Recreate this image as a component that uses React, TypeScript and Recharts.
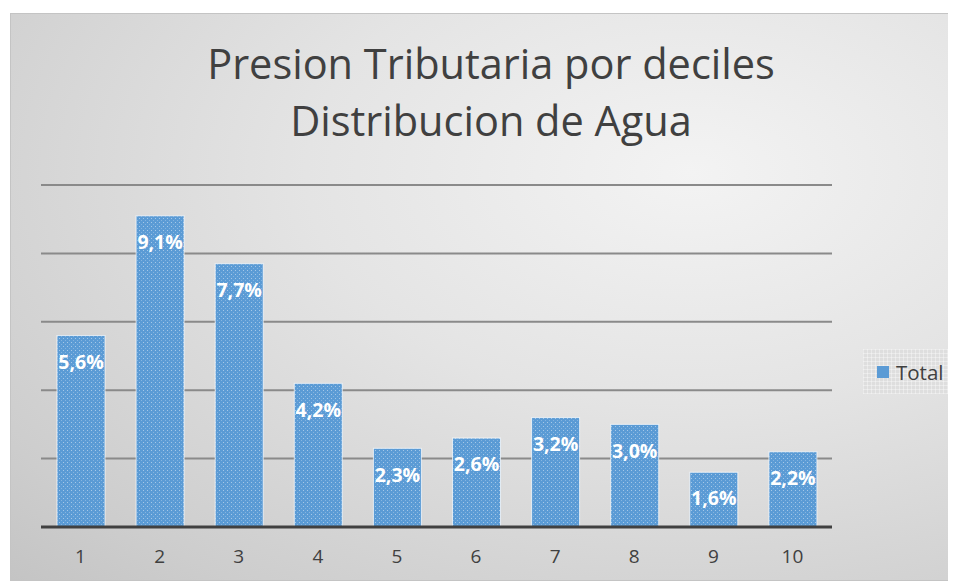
import { Bar, BarChart, CartesianGrid, LabelList, XAxis, YAxis } from "recharts";

// Presión tributaria por deciles — distribución de agua (% del ingreso)
const deciles = ["1", "2", "3", "4", "5", "6", "7", "8", "9", "10"];
const total = [5.6, 9.1, 7.7, 4.2, 2.3, 2.6, 3.2, 3.0, 1.6, 2.2];
const yTicks = [0, 2, 4, 6, 8, 10];
const titleLines = ["Presion Tributaria por deciles", "Distribucion de Agua"];
const seriesName = "Total";

const data = deciles.map((d, i) => ({ decil: d, total: total[i] }));

const FONT = "'Open Sans', 'Noto Sans', sans-serif";
const BLUE = "#5b9bd5";
const fmtPct = (v: number) => `${v.toFixed(1).replace(".", ",")}%`;

function DottedBar(props: any) {
  const { x, y, width, height } = props;
  if (!height || height <= 0) return null;
  return (
    <g>
      <rect x={x} y={y} width={width} height={height} fill={BLUE} stroke="rgba(255,255,255,0.7)" strokeWidth={1} />
      <rect x={x} y={y} width={width} height={height} fill="url(#dots)" />
    </g>
  );
}

function InsideTopLabel(props: any) {
  const { x, y, width, value } = props;
  return (
    <text
      x={x + width / 2}
      y={y + 28}
      textAnchor="middle"
      dominantBaseline="middle"
      fill="#fff"
      fontFamily={FONT}
      fontWeight={700}
      fontSize={19.5}
    >
      {fmtPct(Number(value))}
    </text>
  );
}

export default function App() {
  return (
    <div
      style={{
        position: "relative",
        marginLeft: 2,
        marginTop: 5,
        width: 946,
        height: 568,
        border: "1px solid #c4c4c4",
        boxSizing: "border-box",
        background: "radial-gradient(ellipse at 72% 28%, #f3f3f3 0%, #e4e4e4 40%, #cdcdcd 85%, #c4c4c4 100%)",
        fontFamily: FONT,
      }}
    >
      <svg width={0} height={0} style={{ position: "absolute" }}>
        <defs>
          <pattern id="dots" width={4} height={4} patternUnits="userSpaceOnUse">
            <rect x={0} y={0} width={1} height={1} fill="rgba(255,255,255,0.45)" />
            <rect x={2} y={2} width={1} height={1} fill="rgba(255,255,255,0.25)" />
          </pattern>
        </defs>
      </svg>

      <div
        style={{
          position: "absolute",
          left: 0,
          width: 960,
          top: 21,
          textAlign: "center",
          color: "#404040",
          fontSize: 41.5,
          lineHeight: "57px",
        }}
      >
        {titleLines.map((t) => (
          <div key={t}>{t}</div>
        ))}
      </div>

      <BarChart
        width={944}
        height={566}
        data={data}
        margin={{ top: 171, right: 123, bottom: 20, left: 30 }}
      >
        <CartesianGrid horizontal vertical={false} stroke="#8a8a8a" strokeWidth={2} />
        <YAxis hide domain={[0, 10]} ticks={yTicks} />
        <XAxis
          dataKey="decil"
          axisLine={{ stroke: "#404040", strokeWidth: 3 }}
          tickLine={false}
          height={33}
          tick={{ fontSize: 19, fill: "#404040", fontFamily: FONT }}
          tickMargin={17}
        />
        <Bar dataKey="total" name={seriesName} barSize={48} shape={DottedBar} isAnimationActive={false}>
          <LabelList dataKey="total" content={InsideTopLabel} />
        </Bar>
      </BarChart>

      <div
        style={{
          position: "absolute",
          left: 852,
          top: 335,
          width: 94,
          height: 45,
          boxSizing: "border-box",
          background:
            "repeating-linear-gradient(0deg, rgba(255,255,255,0.35) 0 1px, transparent 1px 4px), repeating-linear-gradient(90deg, rgba(255,255,255,0.35) 0 1px, transparent 1px 4px), #dedede",
          display: "flex",
          alignItems: "center",
          paddingLeft: 14,
          gap: 7,
          color: "#404040",
          fontSize: 20.5,
        }}
      >
        <span style={{ display: "inline-block", width: 12, height: 12, background: BLUE }} />
        <span>{seriesName}</span>
      </div>
    </div>
  );
}
